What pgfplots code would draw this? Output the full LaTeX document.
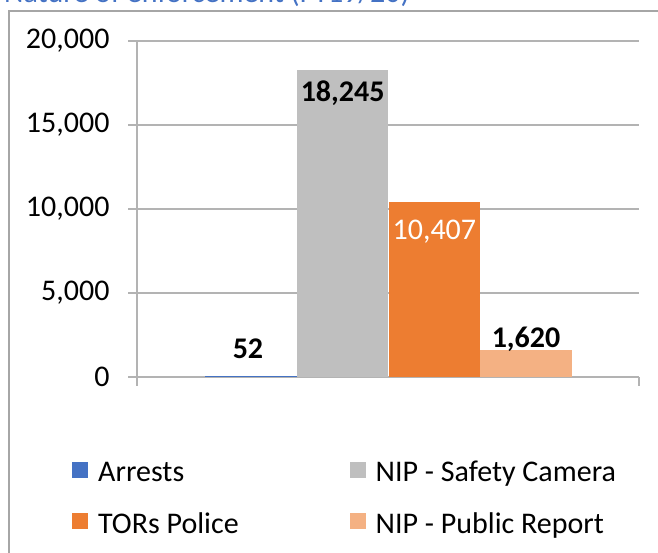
\documentclass[border=0pt]{standalone}
\usepackage{pgfplots}
\pgfplotsset{compat=1.18}
\usepackage{fontspec}
\setmainfont{Carlito}
\definecolor{cBlue}{HTML}{4472C4}
\definecolor{cGray}{HTML}{BFBFBF}
\definecolor{cOrange}{HTML}{ED7D31}
\definecolor{cPeach}{HTML}{F4B183}
\definecolor{gridc}{HTML}{B3B3B3}
\definecolor{framec}{HTML}{A6A6A6}
\newcommand{\bigfont}{\fontsize{30}{36}\selectfont}
\begin{document}
\begin{tikzpicture}[x=1pt,y=1pt]
\useasboundingbox (0,0) rectangle (658,553);
\draw[framec, line width=1.3pt] (9,-20) -- (9,542) -- (700,542);
\node[anchor=base west, inner sep=0pt, text=cBlue, font=\bigfont] at (4,550.5) {Nature of enforcement (FY19/20)};
\begin{axis}[
  scale only axis, width=502pt, height=336pt,
  at={(137pt,176pt)}, anchor=south west,
  xmin=-1.243, xmax=4.232, ymin=0, ymax=20000,
  axis lines*=left, axis line style={gridc, line width=1.3pt, -},
  ytick={0,5000,10000,15000,20000},
  xtick={-1.243,4.232}, xticklabels={,},
  tick align=outside, major tick length=9pt,
  tick style={gridc, line width=1.3pt},
  ymajorgrids, grid style={gridc, line width=1.3pt},
  yticklabel style={font=\bigfont, xshift=-15pt},
  scaled y ticks=false,
  /pgf/number format/1000 sep={,},
  /pgf/number format/assume math mode=true,
  ybar, bar width=91.6pt,
  nodes near coords={\pgfmathprintnumber{\pgfplotspointmeta}},
  legend columns=2,
  legend cell align=left,
  legend image code/.code={\fill[#1] (0pt,-6pt) rectangle (16pt,10pt);},
  legend style={draw=none, fill=none, inner sep=0pt, font=\bigfont,
    at={(-0.1295,-0.244)}, anchor=north west, row sep=25pt,
    /tikz/every odd column/.append style={column sep=8pt},
    /tikz/every even column/.append style={column sep=109pt}},
]
\addplot[fill=cBlue, draw=none, bar shift=0pt,
  every node near coord/.append style={anchor=base, yshift=18pt, xshift=-3pt, font=\bigfont\bfseries, text=black}]
  coordinates {(0,52)};
\addlegendentry{Arrests}
\addplot[fill=cGray, draw=none, bar shift=0pt,
  every node near coord/.append style={anchor=base, yshift=-31.5pt, font=\bigfont\bfseries, text=black}]
  coordinates {(1,18245)};
\addlegendentry{NIP - Safety Camera}
\addplot[fill=cOrange, draw=none, bar shift=0pt,
  every node near coord/.append style={anchor=base, yshift=-37.8pt, font=\bigfont, text=white}]
  coordinates {(2,10407)};
\addlegendentry{TORs Police}
\addplot[fill=cPeach, draw=none, bar shift=0pt,
  every node near coord/.append style={anchor=base, yshift=2pt, font=\bigfont\bfseries, text=black}]
  coordinates {(3,1620)};
\addlegendentry{NIP - Public Report}
\end{axis}
\end{tikzpicture}
\end{document}
